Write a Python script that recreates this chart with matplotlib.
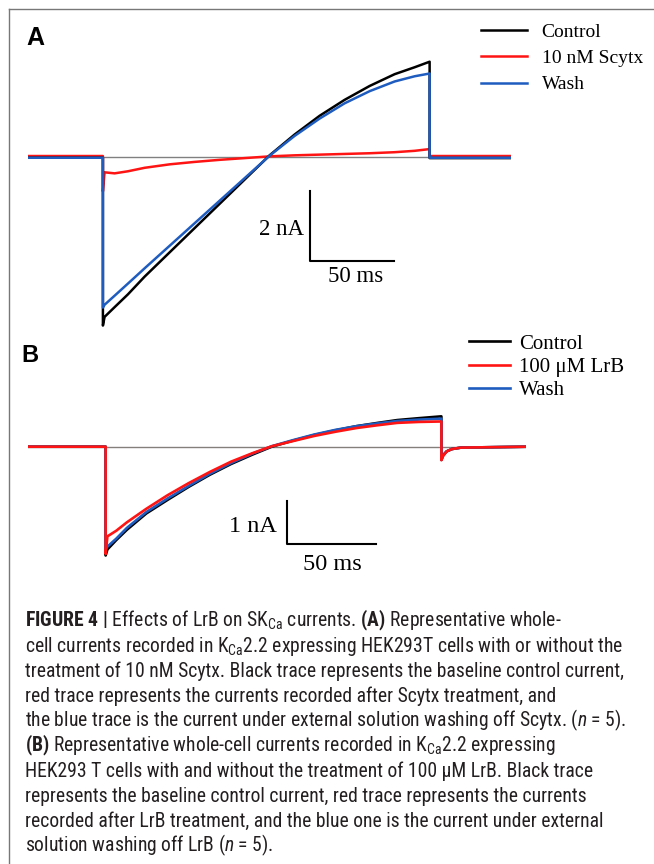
import matplotlib
matplotlib.use('Agg')
import matplotlib.pyplot as plt
from matplotlib import font_manager
from matplotlib.lines import Line2D

# ---- data (ms, nA) ----
# panel A: 10 nM Scytx
t_a = [0, 45, 45, 46, 52, 60, 70, 85, 100, 115, 130, 145, 160, 175, 190, 205, 220, 232, 241, 241, 290]
control_a = [-0.03, -0.03, -4.87, -4.62, -4.34, -3.97, -3.46, -2.76, -2.06, -1.36, -0.66, 0.04,
             0.64, 1.18, 1.64, 2.04, 2.38, 2.58, 2.74, -0.04, -0.04]
scytx_a = [0.02, 0.02, -1.0, -0.45, -0.48, -0.42, -0.32, -0.22, -0.15, -0.09, -0.04, 0.01,
           0.04, 0.06, 0.08, 0.10, 0.13, 0.17, 0.22, 0.02, 0.02]
wash_a = [-0.03, -0.03, -4.35, -4.27, -4.01, -3.66, -3.22, -2.57, -1.92, -1.27, -0.62, 0.03,
          0.60, 1.10, 1.54, 1.89, 2.17, 2.32, 2.40, -0.03, -0.03]
labels_a = ['Control', '10 nM Scytx', 'Wash']

# panel B: 100 uM LrB
t_b = [0, 44, 44, 45, 50, 56, 67, 79, 91, 103, 115, 127, 138, 150, 162, 174, 186, 198, 209, 221,
       234, 234, 235, 237, 240, 245, 282]
control_b = [0.0, 0.0, -2.33, -2.20, -2.00, -1.78, -1.43, -1.14, -0.86, -0.60, -0.37, -0.17, 0.0,
             0.13, 0.25, 0.35, 0.44, 0.51, 0.57, 0.61, 0.65, -0.28, -0.18, -0.10, -0.05, -0.02, 0.0]
lrb_b = [0.0, 0.0, -2.30, -1.92, -1.80, -1.62, -1.33, -1.04, -0.78, -0.54, -0.32, -0.14, 0.01,
         0.12, 0.23, 0.32, 0.40, 0.46, 0.51, 0.53, 0.54, -0.29, -0.20, -0.10, -0.05, -0.02, 0.0]
wash_b = [0.0, 0.0, -2.20, -2.14, -1.97, -1.74, -1.40, -1.11, -0.84, -0.58, -0.35, -0.15, 0.01,
          0.14, 0.26, 0.36, 0.44, 0.50, 0.55, 0.58, 0.60, -0.28, -0.18, -0.10, -0.05, -0.02, 0.0]
labels_b = ['Control', '100 μM LrB', 'Wash']

caption = [
    r'$\mathbf{FIGURE\ 4\ |}$ Effects of LrB on SK$_{\mathrm{Ca}}$ currents. $\mathbf{(A)}$ Representative whole-',
    r'cell currents recorded in K$_{\mathrm{Ca}}$2.2 expressing HEK293T cells with or without the',
    'treatment of 10 nM Scytx. Black trace represents the baseline control current,',
    'red trace represents the currents recorded after Scytx treatment, and',
    r'the blue trace is the current under external solution washing off Scytx. ($n$ = 5).',
    r'$\mathbf{(B)}$ Representative whole-cell currents recorded in K$_{\mathrm{Ca}}$2.2 expressing',
    'HEK293 T cells with and without the treatment of 100 μM LrB. Black trace',
    'represents the baseline control current, red trace represents the currents',
    'recorded after LrB treatment, and the blue one is the current under external',
    r'solution washing off LrB ($n$ = 5).',
]

colors = ['black', '#ff1414', '#1f5cbf']
W, H = 654, 864


def pick_font(names):
    for n in names:
        try:
            font_manager.findfont(n, fallback_to_default=False)
            return n
        except ValueError:
            pass
    return 'DejaVu Sans'


cap_font = pick_font(['Liberation Sans Narrow', 'DejaVu Sans Condensed', 'Roboto Condensed',
                      'Liberation Sans'])
serif = 'Liberation Serif'
plt.rcParams['mathtext.fontset'] = 'custom'
plt.rcParams['mathtext.rm'] = cap_font
plt.rcParams['mathtext.bf'] = cap_font + ':bold'
plt.rcParams['mathtext.it'] = cap_font + ':italic'

fig = plt.figure(figsize=(W / 100, H / 100), dpi=100)


def place(left, top, width, height):
    # pixel box -> figure fraction
    return fig.add_axes([left / W, 1 - (top + height) / H, width / W, height / H])


def fy(y):
    return 1 - y / H


# frame of the figure page
fig.add_artist(Line2D([9 / W, 1], [fy(9), fy(9)], color='#777777', lw=1.0))
fig.add_artist(Line2D([9 / W, 9 / W], [0, fy(9)], color='#777777', lw=1.0))

# ---- panel A ----
axA = place(27.9, 31.9, 483.4, 305.1)
axA.set_xlim(0, 290)
axA.set_ylim(-5.2, 3.6)
axA.axis('off')
axA.plot([0, 290], [0, 0], color='#808080', lw=1.0, zorder=1)
axA.plot(t_a, scytx_a, color=colors[1], lw=1.8, label=labels_a[1], zorder=2)
axA.plot(t_a, control_a, color=colors[0], lw=1.8, label=labels_a[0], zorder=3)
axA.plot(t_a, wash_a, color=colors[2], lw=1.8, label=labels_a[2], zorder=4)
# scale bar
axA.plot([169.5, 169.5, 219.5], [-1.0, -3.0, -3.0], color='black', lw=1.5, clip_on=False)
axA.text(165.6, -2.11, '2 nA', family=serif, fontsize=16.5, ha='right', va='center')
axA.text(196.8, -3.46, '50 ms', family=serif, fontsize=16.5, ha='center', va='center')
h, l = axA.get_legend_handles_labels()
order = [1, 0, 2]
axA.legend([h[i] for i in order], [l[i] for i in order], loc='center left',
           bbox_to_anchor=(481 / W, fy(58.3)), bbox_transform=fig.transFigure,
           frameon=False, prop={'family': serif, 'size': 14}, borderpad=0,
           borderaxespad=0, handlelength=2.37, handletextpad=0.75, labelspacing=0.45)
fig.text(26.7 / W, fy(45), 'A', family='Liberation Sans', weight='bold', fontsize=18,
         va='baseline')

# ---- panel B ----
axB = place(27.9, 339.3, 498.3, 228.8)
axB.set_xlim(0, 282)
axB.set_ylim(-2.6, 2.3)
axB.axis('off')
axB.plot([0, 282], [0, 0], color='#857f7b', lw=1.0, zorder=1)
axB.plot(t_b, control_b, color=colors[0], lw=1.9, label=labels_b[0], zorder=2)
axB.plot(t_b, wash_b, color=colors[2], lw=1.9, label=labels_b[2], zorder=3)
axB.plot(t_b, lrb_b, color=colors[1], lw=1.9, label=labels_b[1], zorder=4)
axB.plot([146.9, 146.9, 196.9], [-1.16, -2.09, -2.09], color='black', lw=1.5, clip_on=False)
axB.text(141, -1.71, '1 nA', family=serif, fontsize=17.5, ha='right', va='center')
axB.text(172.1, -2.53, '50 ms', family=serif, fontsize=17.5, ha='center', va='center')
h, l = axB.get_legend_handles_labels()
order = [0, 2, 1]
axB.legend([h[i] for i in order], [l[i] for i in order], loc='center left',
           bbox_to_anchor=(468.75 / W, fy(367.3)), bbox_transform=fig.transFigure,
           frameon=False, prop={'family': serif, 'size': 15}, borderpad=0,
           borderaxespad=0, handlelength=2.0, handletextpad=0.4, labelspacing=0.18)
fig.text(21.7 / W, fy(361.7), 'B', family='Liberation Sans', weight='bold', fontsize=17,
         va='baseline')

# ---- caption ----
texts = []
for i, line in enumerate(caption):
    texts.append(fig.text(25 / W, fy(626.7 + 25 * i), line, family=cap_font, fontsize=11,
                          color='#231f20', va='baseline'))
fig.canvas.draw()
r = fig.canvas.get_renderer()
widest = max(t.get_window_extent(r).width for t in texts[:9])
size = 11 * 600 / widest
for t in texts:
    t.set_fontsize(size)

fig.savefig('out.png', dpi=100, facecolor='white')
